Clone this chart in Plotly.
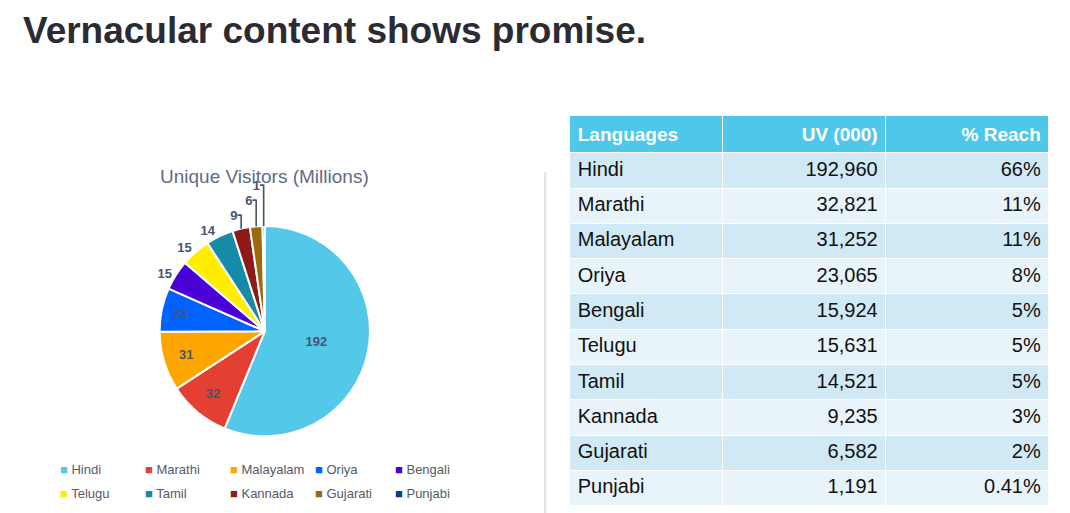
import plotly.graph_objects as go

# Data
languages = ["Hindi", "Marathi", "Malayalam", "Oriya", "Bengali",
             "Telugu", "Tamil", "Kannada", "Gujarati", "Punjabi"]
uv_thousands = [192960, 32821, 31252, 23065, 15924, 15631, 14521, 9235, 6582, 1191]
reach = ["66%", "11%", "11%", "8%", "5%", "5%", "5%", "3%", "2%", "0.41%"]
colors = ["#53C8E8", "#E33F33", "#FFA500", "#0063FF", "#4B00D6",
          "#FFEE00", "#168AA6", "#8E1A1A", "#9C6A0B", "#0B3A8C"]

millions = [str(v // 1000) for v in uv_thousands]
positions = ["inside"] * 4 + ["outside"] * 6

fig = go.Figure()

fig.add_trace(go.Pie(
    labels=languages,
    values=uv_thousands,
    text=millions,
    texttemplate="<b>%{text}</b>",
    textposition=positions,
    textfont=dict(family="Arial", size=13, color="#4A5470"),
    insidetextorientation="horizontal",
    marker=dict(colors=colors, line=dict(color="white", width=2)),
    sort=False,
    direction="clockwise",
    rotation=0,
    domain=dict(x=[0.12, 0.36], y=[0.165, 0.575]),
    showlegend=False,
))

# Table
row_fill = ["#D0E9F5" if i % 2 == 0 else "#E9F4FA" for i in range(len(languages))]
fig.add_trace(go.Table(
    domain=dict(x=[0.525, 0.973], y=[0.0, 0.79]),
    columnwidth=[150, 160, 160],
    header=dict(
        values=["<b>Languages</b>", "<b>UV (000)</b>", "<b>% Reach</b>"],
        fill_color="#4FC7EA",
        line_color="white",
        align=["left", "right", "right"],
        font=dict(family="Arial", size=19, color="white"),
        height=33,
    ),
    cells=dict(
        values=[languages, [f"{v:,}" for v in uv_thousands], reach],
        fill_color=[row_fill] * 3,
        line_color="white",
        align=["left", "right", "right"],
        font=dict(family="Arial", size=20, color="#111111"),
        height=35.3,
    ),
))

fig.add_shape(type="line", xref="paper", yref="paper",
              x0=0.502, x1=0.502, y0=0.0, y1=0.68,
              line=dict(color="#E2E2E2", width=2))

fig.add_annotation(text="<b>Vernacular content shows promise.</b>",
                   xref="paper", yref="paper", x=0.012, y=1.0,
                   xanchor="left", yanchor="top", showarrow=False,
                   font=dict(family="Arial", size=37, color="#2B2B33"))
fig.add_annotation(text="Unique Visitors (Millions)",
                   xref="paper", yref="paper", x=0.24, y=0.672,
                   xanchor="center", yanchor="middle", showarrow=False,
                   font=dict(family="Arial", size=19, color="#5F6B88"))

# Manual two-row legend
legend_x = [50, 135, 220, 305, 385]
legend_y = [461, 485]
for i, (name, c) in enumerate(zip(languages, colors)):
    fig.add_annotation(
        text=f"<span style='color:{c}'>■</span> {name}",
        xref="paper", yref="paper",
        x=legend_x[i % 5] / 1070, y=1 - legend_y[i // 5] / 513,
        xanchor="left", yanchor="middle", showarrow=False,
        font=dict(family="Arial", size=13, color="#555A66"))

fig.update_layout(
    width=1070, height=513,
    paper_bgcolor="white", plot_bgcolor="white",
    margin=dict(l=0, r=0, t=0, b=0),
)

fig.write_html("out.html")
